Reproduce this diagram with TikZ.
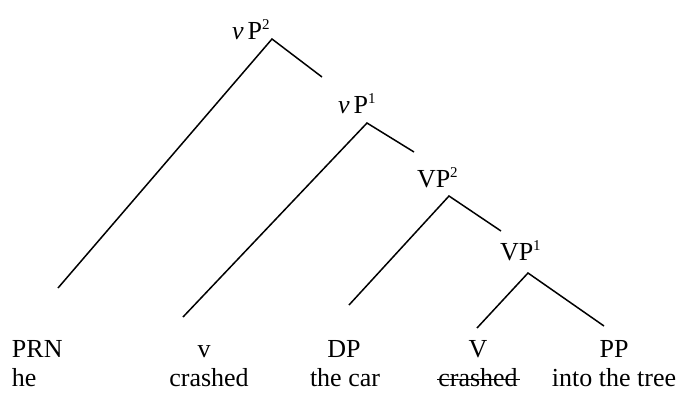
\documentclass[tikz,border=0pt]{standalone}
\usepackage{fontspec}
\setmainfont{Liberation Serif}
\begin{document}
\begin{tikzpicture}[x=1pt,y=-1pt,
  lbl/.style={inner sep=0pt,outer sep=0pt,font=\fontsize{26}{30}\selectfont},
  branch/.style={line width=1.5pt,line cap=butt},
  strike/.style={line width=1.1pt}]
\useasboundingbox (0,0) rectangle (677,392);
\newcommand{\mysup}[1]{\raisebox{10pt}{\fontsize{15}{15}\selectfont #1}}
% phrase labels
\node[lbl,anchor=base west] (vp2) at (232,39) {\textit{v}\hspace{4pt}P\mysup{2}};
\node[lbl,anchor=base west] (vp1) at (338,113) {\textit{v}\hspace{4pt}P\mysup{1}};
\node[lbl,anchor=base west] (VP2) at (417,187) {VP\mysup{2}};
\node[lbl,anchor=base west] (VP1) at (500,260) {VP\mysup{1}};
% apexes and branch ends
\coordinate (a2) at (272,39);
\coordinate (a1) at (367,123);
\coordinate (b2) at (449,196);
\coordinate (b1) at (528,273);
\coordinate (e1) at (58,288);
\coordinate (e2) at (322,77);
\coordinate (e3) at (183,317);
\coordinate (e4) at (414,152);
\coordinate (e5) at (349,305);
\coordinate (e6) at (501,231);
\coordinate (e7) at (477,328);
\coordinate (e8) at (604,326);
% terminal labels
\node[lbl,anchor=base west] (prn) at (12,357) {PRN};
\node[lbl,anchor=base west] (he) at (12,386) {he};
\node[lbl,anchor=base] (v) at (204,357) {v};
\node[lbl,anchor=base] (cr1) at (209,386) {crashed};
\node[lbl,anchor=base] (dp) at (344,357) {DP};
\node[lbl,anchor=base] (car) at (345,386) {the car};
\node[lbl,anchor=base] (V) at (478,357) {V};
\node[lbl,anchor=base] (cr2) at (478,386) {crashed};
\node[lbl,anchor=base] (pp) at (614,357) {PP};
\node[lbl,anchor=base] (tree) at (614,386) {into the tree};
\draw[strike] ([xshift=-1pt,yshift=6.5pt]cr2.base west) -- ([xshift=2pt,yshift=6.5pt]cr2.base east);
% branches
\draw[branch] (e1) -- (a2) -- (e2);
\draw[branch] (e3) -- (a1) -- (e4);
\draw[branch] (e5) -- (b2) -- (e6);
\draw[branch] (e7) -- (b1) -- (e8);
\end{tikzpicture}
\end{document}
